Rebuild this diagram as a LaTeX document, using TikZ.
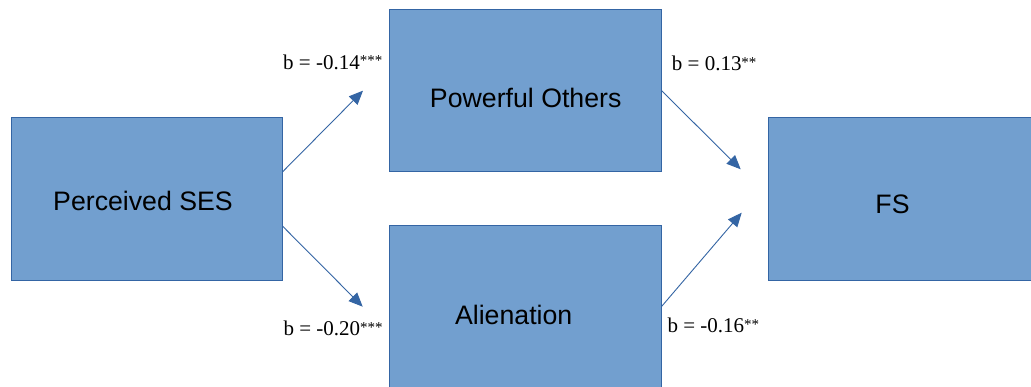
\documentclass[tikz,border=0pt]{standalone}
\usepackage{fontspec}
\setmainfont{Liberation Serif}
\newfontfamily\boxfont{Liberation Sans}
\usetikzlibrary{arrows.meta}
\definecolor{boxfill}{HTML}{729FCF}
\definecolor{boxline}{HTML}{3465A4}
\newcommand{\stars}[1]{\raisebox{3.5pt}{\fontsize{15}{15}\selectfont #1}}
\tikzset{
  varbox/.style={draw=boxline, line width=0.8pt, fill=boxfill, inner sep=0pt},
  boxtext/.style={inner sep=0pt, anchor=base, font=\boxfont\fontsize{26.7}{30}\selectfont},
  coef/.style={inner sep=0pt, anchor=base west, font=\fontsize{21}{24}\selectfont},
  path/.style={draw=boxline, line width=0.9pt, -{Triangle[length=14pt,width=12pt]}}
}
\begin{document}
\begin{tikzpicture}[x=1pt, y=-1pt]
  \useasboundingbox (0,0) rectangle (1031,387);
  \clip (0,0) rectangle (1031,387);
  \fill[white] (0,0) rectangle (1031,387);

  % construct boxes
  \node[varbox, minimum width=271pt, minimum height=163pt] (ses) at (146.5,198.5) {};
  \node[varbox, minimum width=272pt, minimum height=162pt] (po)  at (525,90.5) {};
  \node[varbox, minimum width=272pt, minimum height=162pt] (al)  at (525,306) {};
  \node[varbox, minimum width=272pt, minimum height=163pt] (fs)  at (904,198.5) {};

  % box captions
  \node[boxtext] (sesT) at (143,210.7) {Perceived SES};
  \node[boxtext] (poT)  at (525.7,107.3) {Powerful Others};
  \node[boxtext] (alT)  at (513.7,324.3) {Alienation};
  \node[boxtext] (fsT)  at (892.5,213.3) {FS};

  % arrow ends
  \coordinate (t1) at (363,90.7);
  \coordinate (t2) at (362.7,306.7);
  \coordinate (t3) at (740.7,169.3);
  \coordinate (t4) at (741.7,212.7);

  % paths
  \draw[path] ([yshift=26.5pt]ses.east) -- (t1);
  \draw[path] ([yshift=-27.5pt]ses.east) -- (t2);
  \draw[path] (po.east) -- (t3);
  \draw[path] ([yshift=-0.7pt]al.east) -- (t4);

  % path coefficients
  \node[coef] (c1) at (283,69.3) {b = -0.14\stars{***}};
  \node[coef] (c2) at (283.3,335.7) {b = -0.20\stars{***}};
  \node[coef] (c3) at (671.7,71) {b = 0.13\stars{**}};
  \node[coef] (c4) at (667.3,333) {b = -0.16\stars{**}};
\end{tikzpicture}
\end{document}
